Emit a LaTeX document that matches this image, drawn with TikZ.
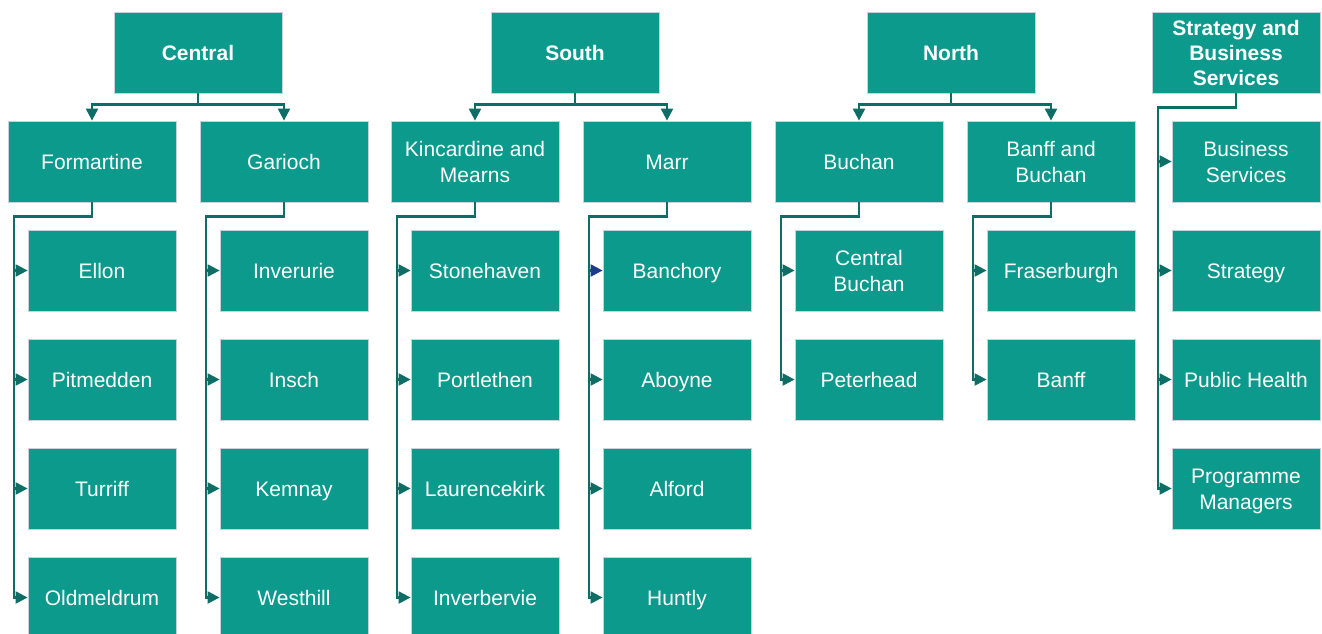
\documentclass[tikz,border=0pt]{standalone}
\usepackage{fontspec}
\setmainfont{Liberation Sans}
\usetikzlibrary{arrows.meta,calc}
\definecolor{boxfill}{HTML}{0C9A8D}
\definecolor{boxline}{HTML}{C9D3D6}
\definecolor{conncol}{HTML}{0E6E66}
\definecolor{darkblue}{HTML}{1B3C8C}
\newcommand\boxstrut{\rule[-6pt]{0pt}{27.4pt}}
\newcommand\topstrut{\rule{0pt}{21.4pt}}
\tikzset{
  unitbox/.style={draw=boxline, line width=0.8pt, fill=boxfill, text=white, inner sep=0pt,
    minimum height=81pt, align=center,
    execute at begin node=\boxstrut, execute at end node=\boxstrut,
    font=\fontsize{21}{26}\selectfont},
  topbox/.style={unitbox, minimum width=168pt, font=\fontsize{21}{25}\selectfont\bfseries},
  midbox/.style={unitbox, minimum width=168pt},
  leafbox/.style={unitbox, minimum width=148pt},
  conn/.style={draw=conncol, line width=2.2pt},
  arr/.style={conn, -{Triangle[length=12pt,width=12pt]}},
}
\begin{document}
\begin{tikzpicture}[x=1pt,y=-1pt]
\useasboundingbox (0,0) rectangle (1322,634);
% top level
\node[topbox] (C) at (198,52.5) {Central};
\node[topbox] (S) at (575,52.5) {South};
\node[topbox] (N) at (951,52.5) {North};
\node[topbox] (SB) at (1236,52.5) {\topstrut Strategy and\\Business\\Services};
% second level
\node[midbox] (F) at (92,161.5) {Formartine};
\node[midbox] (G) at (284,161.5) {Garioch};
\node[midbox] (K) at (475,161.5) {\topstrut Kincardine and\\Mearns};
\node[midbox] (M) at (667,161.5) {Marr};
\node[midbox] (B) at (859,161.5) {Buchan};
\node[midbox] (BB) at (1051,161.5) {\topstrut Banff and\\Buchan};
% leaves
\node[leafbox] (F1) at (102,270.5) {Ellon};
\node[leafbox] (F2) at (102,379.5) {Pitmedden};
\node[leafbox] (F3) at (102,488.5) {Turriff};
\node[leafbox] (F4) at (102,597.5) {Oldmeldrum};
\node[leafbox] (G1) at (294,270.5) {Inverurie};
\node[leafbox] (G2) at (294,379.5) {Insch};
\node[leafbox] (G3) at (294,488.5) {Kemnay};
\node[leafbox] (G4) at (294,597.5) {Westhill};
\node[leafbox] (K1) at (485,270.5) {Stonehaven};
\node[leafbox] (K2) at (485,379.5) {Portlethen};
\node[leafbox] (K3) at (485,488.5) {Laurencekirk};
\node[leafbox] (K4) at (485,597.5) {Inverbervie};
\node[leafbox] (M1) at (677,270.5) {Banchory};
\node[leafbox] (M2) at (677,379.5) {Aboyne};
\node[leafbox] (M3) at (677,488.5) {Alford};
\node[leafbox] (M4) at (677,597.5) {Huntly};
\node[leafbox] (B1) at (869,270.5) {\topstrut Central\\Buchan};
\node[leafbox] (B2) at (869,379.5) {Peterhead};
\node[leafbox] (BB1) at (1061,270.5) {Fraserburgh};
\node[leafbox] (BB2) at (1061,379.5) {Banff};
\node[leafbox] (SB1) at (1246,161.5) {\topstrut Business\\Services};
\node[leafbox] (SB2) at (1246,270.5) {Strategy};
\node[leafbox] (SB3) at (1246,379.5) {Public Health};
\node[leafbox] (SB4) at (1246,488.5) {\topstrut Programme\\Managers};
% top connectors
\draw[arr] (C.south) -- ++(0,11) -| (F.north);
\draw[arr] (C.south) -- ++(0,11) -| (G.north);
\draw[arr] (S.south) -- ++(0,11) -| (K.north);
\draw[arr] (S.south) -- ++(0,11) -| (M.north);
\draw[arr] (N.south) -- ++(0,11) -| (B.north);
\draw[arr] (N.south) -- ++(0,11) -| (BB.north);
% trunk corner coordinates
\coordinate (tF) at ($(F.south west)+(6,14)$);
\coordinate (tG) at ($(G.south west)+(6,14)$);
\coordinate (tK) at ($(K.south west)+(6,14)$);
\coordinate (tM) at ($(M.south west)+(6,14)$);
\coordinate (tB) at ($(B.south west)+(6,14)$);
\coordinate (tBB) at ($(BB.south west)+(6,14)$);
\coordinate (tSB) at ($(SB.south west)+(6,14)$);
% leaf connectors
\foreach \p/\c in {F/F1,F/F2,F/F3,F/F4,G/G1,G/G2,G/G3,G/G4,K/K1,K/K2,K/K3,K/K4,
  M/M2,M/M3,M/M4,B/B1,B/B2,BB/BB1,BB/BB2,SB/SB1,SB/SB2,SB/SB3,SB/SB4}{
  \draw[arr] (\p.south) |- (t\p) |- (\c.west);
}
\draw[conn, -{Triangle[length=12pt,width=12pt,color=darkblue]}] (M.south) |- (tM) |- (M1.west);
\end{tikzpicture}
\end{document}
